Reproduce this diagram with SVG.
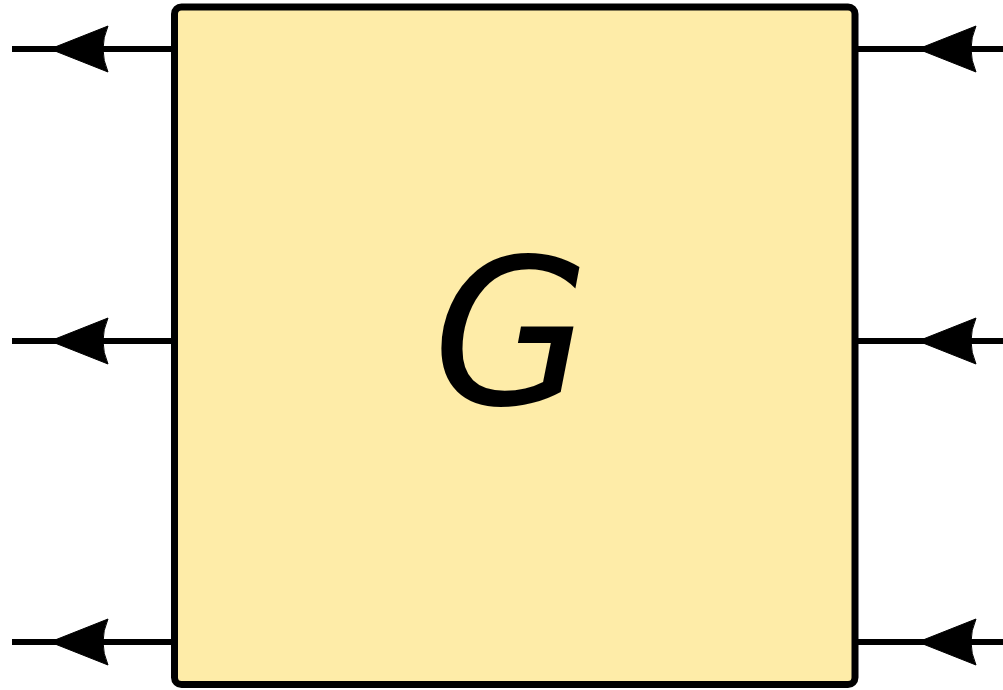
<svg xmlns="http://www.w3.org/2000/svg" xmlns:xlink="http://www.w3.org/1999/xlink" width="1003" height="690" viewBox="0 0 1003 690">
<style>
.wire{stroke:#000;stroke-width:6;fill:none}
.head{fill:#000;stroke:#000;stroke-width:1;stroke-linejoin:round}
.box{fill:#FEECA8;stroke:#000;stroke-width:7}
.lbl{font-family:"DejaVu Sans",sans-serif;font-style:oblique;font-size:203px;fill:#000}
</style>
<defs>
<path id="ah" class="head" d="M0,0 L58,-23 Q48,0 58,23 Z"/>
</defs>
<g id="connectors">
<line class="wire" x1="12" y1="49" x2="174" y2="49"/>
<line class="wire" x1="12" y1="341" x2="174" y2="341"/>
<line class="wire" x1="12" y1="642" x2="174" y2="642"/>
<line class="wire" x1="855" y1="49" x2="1003" y2="49"/>
<line class="wire" x1="855" y1="341" x2="1003" y2="341"/>
<line class="wire" x1="855" y1="642" x2="1003" y2="642"/>
<use xlink:href="#ah" x="50" y="49"/>
<use xlink:href="#ah" x="50" y="341"/>
<use xlink:href="#ah" x="50" y="642"/>
<use xlink:href="#ah" x="918" y="49"/>
<use xlink:href="#ah" x="918" y="341"/>
<use xlink:href="#ah" x="918" y="642"/>
</g>
<g id="G">
<rect class="box" x="174.5" y="7" width="680.5" height="677.5" rx="7"/>
<text class="lbl" x="511" y="404" text-anchor="middle">G</text>
</g>
</svg>
